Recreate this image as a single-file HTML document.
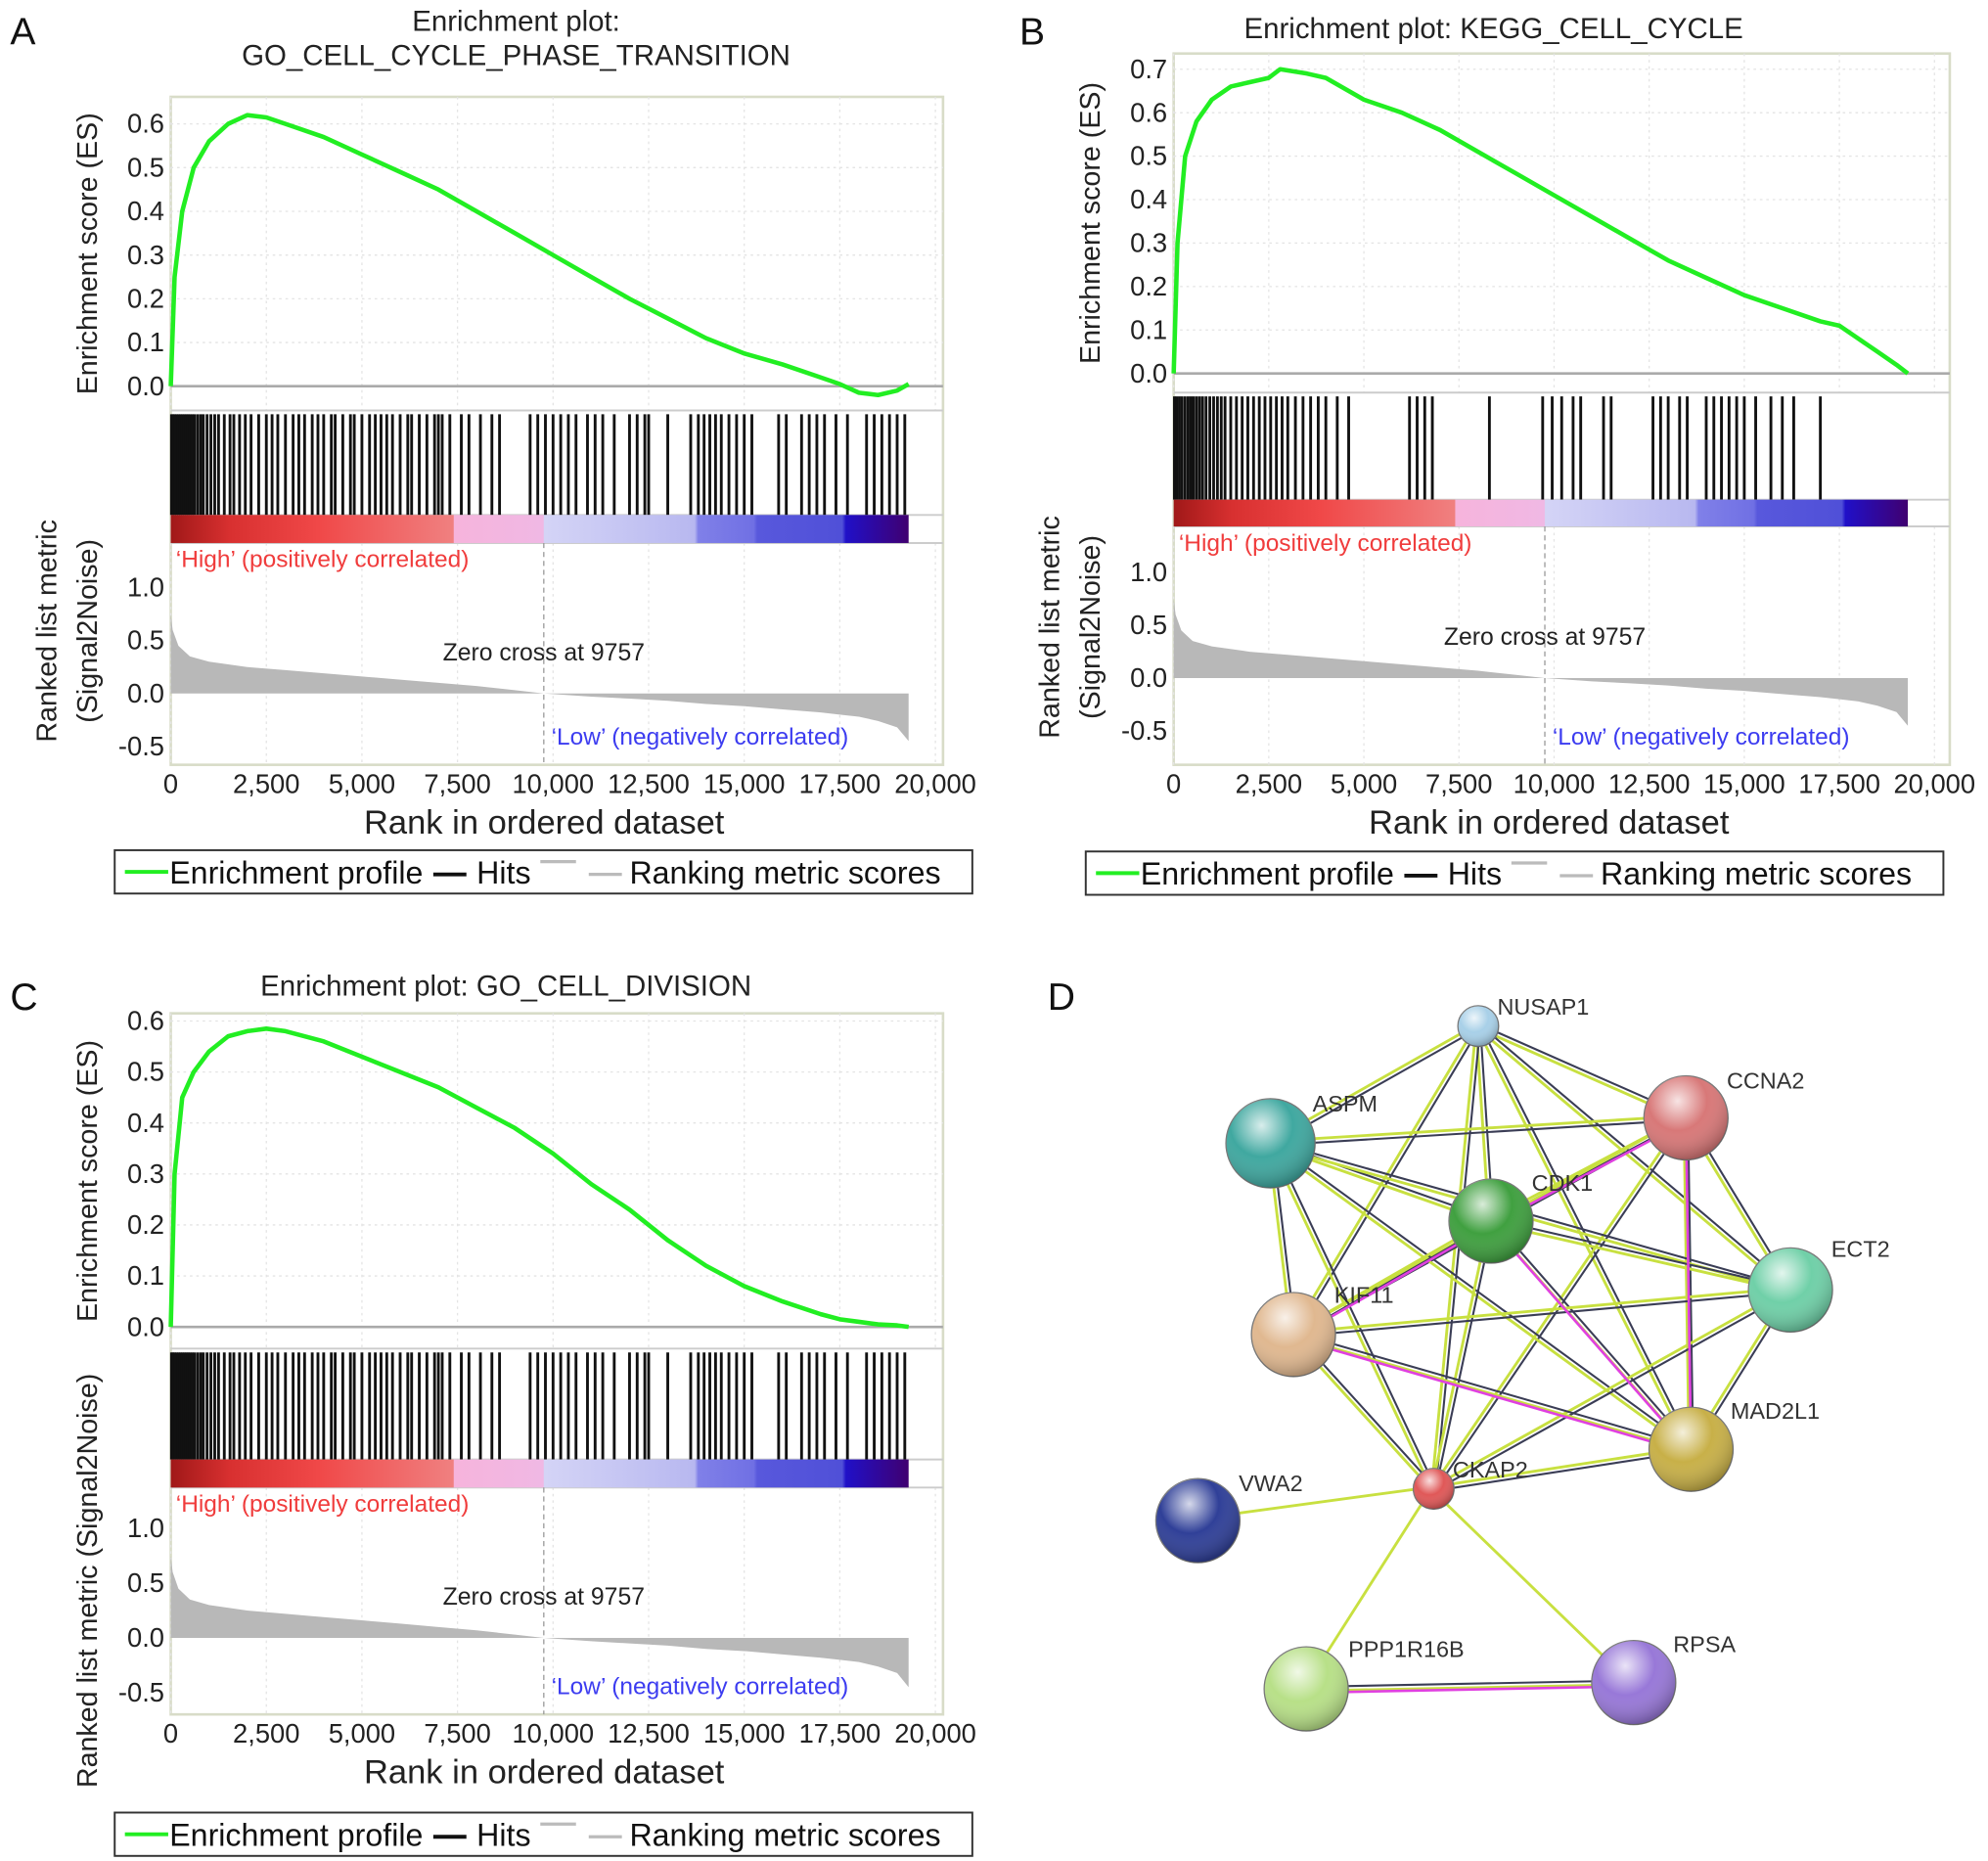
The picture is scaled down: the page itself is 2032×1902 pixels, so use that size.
<!DOCTYPE html>
<html><head><meta charset="utf-8">
<style>
html,body{margin:0;padding:0;background:#fff;}
svg{display:block;font-family:"Liberation Sans",sans-serif;}
</style></head>
<body>
<svg id="fig" width="2032" height="1902" viewBox="0 0 1560 1460" preserveAspectRatio="none" xmlns="http://www.w3.org/2000/svg">
<defs>
<linearGradient id="cbar" x1="0" x2="1" y1="0" y2="0">
<stop offset="0" stop-color="#a01818"/><stop offset="0.08" stop-color="#d83030"/><stop offset="0.2" stop-color="#f04848"/><stop offset="0.383" stop-color="#f08080"/>
<stop offset="0.384" stop-color="#f6b4dc"/><stop offset="0.505" stop-color="#f0b8e4"/>
<stop offset="0.506" stop-color="#d4d4f6"/><stop offset="0.71" stop-color="#b8b8f0"/>
<stop offset="0.715" stop-color="#8080e8"/><stop offset="0.79" stop-color="#7070e4"/>
<stop offset="0.795" stop-color="#5858dc"/><stop offset="0.91" stop-color="#5050d8"/>
<stop offset="0.915" stop-color="#2010c8"/><stop offset="1" stop-color="#400070"/>
</linearGradient>
<radialGradient id="shine" cx="0.4" cy="0.3" r="0.7"><stop offset="0" stop-color="#fff" stop-opacity="0.8"/><stop offset="0.5" stop-color="#fff" stop-opacity="0"/><stop offset="1" stop-color="#000" stop-opacity="0.25"/></radialGradient>
</defs>
</svg>
<script>
// ---- chart data ----
const xTickVals = [0,2500,5000,7500,10000,12500,15000,17500,20000];
const xTickLabels = ["0","2,500","5,000","7,500","10,000","12,500","15,000","17,500","20,000"];
const rankedTickVals = [1.0,0.5,0.0,-0.5];
const rankedTickLabels = ["1.0","0.5","0.0","-0.5"];
const esTicksA = [0,0.1,0.2,0.3,0.4,0.5,0.6];
const esTicksB = [0,0.1,0.2,0.3,0.4,0.5,0.6,0.7];
const esTicksC = [0,0.1,0.2,0.3,0.4,0.5,0.6];
const esRanksA = [0,100,300,600,1000,1500,2000,2500,3000,4000,5000,6000,7000,8000,9000,10000,11000,12000,13000,14000,15000,16000,17000,17500,18000,18500,19000,19300];
const esValsA  = [0,0.25,0.4,0.5,0.56,0.6,0.62,0.615,0.6,0.57,0.53,0.49,0.45,0.4,0.35,0.3,0.25,0.2,0.155,0.11,0.075,0.05,0.02,0.005,-0.015,-0.02,-0.01,0.005];
const esRanksB = [0,100,300,600,1000,1500,2000,2500,2800,3500,4000,5000,6000,7000,8000,9000,10000,11000,12000,13000,14000,15000,16000,17000,17500,18000,18500,19000,19300];
const esValsB  = [0,0.3,0.5,0.58,0.63,0.66,0.67,0.68,0.70,0.69,0.68,0.63,0.6,0.56,0.51,0.46,0.41,0.36,0.31,0.26,0.22,0.18,0.15,0.12,0.11,0.08,0.05,0.02,0];
const esRanksC = [0,100,300,600,1000,1500,2000,2500,3000,4000,5000,6000,7000,8000,9000,10000,11000,12000,13000,14000,15000,16000,17000,17500,18000,18500,19000,19300];
const esValsC  = [0,0.3,0.45,0.5,0.54,0.57,0.58,0.585,0.58,0.56,0.53,0.5,0.47,0.43,0.39,0.34,0.28,0.23,0.17,0.12,0.08,0.05,0.025,0.015,0.01,0.005,0.003,0];
const metricRanks = [0,50,200,500,1000,2000,3000,4000,5000,6000,7000,8000,9000,9757,11000,12000,13000,14000,15000,16000,17000,17500,18000,18500,19000,19300];
const metricVals  = [0.75,0.6,0.45,0.35,0.3,0.25,0.22,0.19,0.16,0.13,0.1,0.07,0.03,0,-0.03,-0.05,-0.07,-0.1,-0.12,-0.15,-0.18,-0.2,-0.22,-0.26,-0.32,-0.45];
const hitsA = [20,60,100,150,200,250,300,350,400,450,500,560,620,700,780,850,950,1050,1150,1250,1400,1550,1650,1800,1950,2100,2300,2500,2650,2800,3000,3200,3350,3500,3700,3850,4000,4200,4300,4500,4700,4800,5000,5200,5350,5500,5650,5800,6000,6200,6300,6500,6700,6900,7000,7100,7300,7600,7800,8100,8400,8600,9400,9600,9800,10000,10200,10400,10600,10900,11100,11300,11600,12000,12200,12400,12500,13000,13600,13800,13950,14100,14250,14400,14600,14800,15000,15200,15900,16100,16500,16700,16900,17100,17400,17700,18200,18400,18600,18800,19000,19200];
const hitsB = [20,80,150,220,300,380,450,520,600,680,760,850,950,1050,1150,1250,1350,1500,1650,1800,1950,2100,2250,2400,2550,2700,2850,3000,3200,3400,3600,3800,4000,4300,4600,6200,6400,6600,6800,8300,9700,9950,10200,10500,10700,11300,11500,12600,12800,13000,13300,13500,14000,14200,14400,14600,14800,15000,15300,15700,16000,16300,17000];
const hitsC = hitsA;
const zeroCross = 9757;
// network data
const nodeNames = ["NUSAP1","CCNA2","ASPM","CDK1","ECT2","KIF11","MAD2L1","CKAP2","VWA2","PPP1R16B","RPSA"];
const edgePairs = [[0,1],[0,2],[0,3],[0,4],[0,5],[0,6],[0,7],[1,2],[1,3],[1,4],[1,5],[1,6],[1,7],[2,3],[2,4],[2,5],[2,6],[2,7],[3,4],[3,5],[3,6],[3,7],[4,5],[4,6],[4,7],[5,6],[5,7],[6,7],[7,8],[7,9],[7,10],[9,10]];

const NS = "http://www.w3.org/2000/svg";
const svg = document.getElementById('fig');
function el(tag, attrs, parent, text){
  const e = document.createElementNS(NS, tag);
  for (const k in attrs) e.setAttribute(k, attrs[k]);
  if (text !== undefined) e.textContent = text;
  (parent || svg).appendChild(e);
  return e;
}

function panel(id, letter, lx, ly, cfg, esRanks, esVals, esTicks, hits){
  const g = el('g', {}, svg);
  
  
  const X = r => cfg.x0 + r * (cfg.x20k - cfg.x0) / 20000;
  const Yes = v => cfg.es0 - v * cfg.esScale;
  const Yrk = v => cfg.rk0 - v * cfg.rkScale;
  const L = el('text', {x:lx, y:ly, 'font-size':30, fill:'#111'}, g, letter);
  
  
  cfg.title.forEach((t, i) => {
    const T = el('text', {x:cfg.titleX, y:cfg.titleY + i*27, 'font-size':22.6, 'text-anchor':'middle', fill:'#222'}, g, t);
    
    
  });
  const F = el('rect', {x:cfg.x0, y:cfg.top, width:cfg.right-cfg.x0, height:cfg.bot-cfg.top, fill:'#fff', stroke:'#d8dcc8', 'stroke-width':2}, g);
  
  
  xTickVals.forEach(v => {
    el('line', {x1:X(v), x2:X(v), y1:cfg.top, y2:cfg.esBot, stroke:'#e4e4e4', 'stroke-dasharray':'2,3'}, g);
    el('line', {x1:X(v), x2:X(v), y1:cfg.rkTop, y2:cfg.bot, stroke:'#e4e4e4', 'stroke-dasharray':'2,3'}, g);
  });
  esTicks.forEach(v => {
    el('line', {x1:cfg.x0, x2:cfg.right, y1:Yes(v), y2:Yes(v), stroke:'#e4e4e4', 'stroke-dasharray':'2,3'}, g);
    const t = el('text', {x:cfg.x0-5, y:Yes(v)+7, 'font-size':21, 'text-anchor':'end', fill:'#222'}, g, v.toFixed(1));
    
    
  });
  el('line', {x1:cfg.x0, x2:cfg.right, y1:Yes(0), y2:Yes(0), stroke:'#aaa', 'stroke-width':2}, g);
  [cfg.esBot, cfg.barTop, cfg.rkTop].forEach(y => el('line', {x1:cfg.x0, x2:cfg.right, y1:y, y2:y, stroke:'#ccc', 'stroke-width':1.5}, g));
  const pts = esRanks.map((r,i) => X(r).toFixed(1) + ',' + Yes(esVals[i]).toFixed(1)).join(' ');
  const C = el('polyline', {points:pts, fill:'none', stroke:'#22ee22', 'stroke-width':3.5, 'stroke-linejoin':'round'}, g);
  
  
  hits.forEach(r => {
    const h = el('line', {x1:X(r), x2:X(r), y1:cfg.esBot+3, y2:cfg.barTop, stroke:'#111', 'stroke-width':2.2}, g);
    
    
  });
  const B = el('rect', {x:X(0), y:cfg.barTop, width:X(19300)-X(0), height:cfg.rkTop-cfg.barTop, fill:'url(#cbar)'}, g);
  
  
  let d = 'M' + X(0) + ',' + Yrk(0);
  metricRanks.forEach((r,i) => { d += ' L' + X(r).toFixed(1) + ',' + Yrk(metricVals[i]).toFixed(1); });
  d += ' L' + X(19300) + ',' + Yrk(0) + ' Z';
  const A = el('path', {d:d, fill:'#b8b8b8'}, g);
  
  
  rankedTickVals.forEach((v,i) => {
    const t = el('text', {x:cfg.x0-5, y:Yrk(v)+7, 'font-size':21, 'text-anchor':'end', fill:'#222'}, g, rankedTickLabels[i]);
    
    
  });
  el('line', {x1:X(zeroCross), x2:X(zeroCross), y1:cfg.rkTop, y2:cfg.bot, stroke:'#999', 'stroke-dasharray':'4,3'}, g);
  const z = el('text', {x:X(zeroCross), y:Yrk(0)-26, 'font-size':19, 'text-anchor':'middle', fill:'#222'}, g, 'Zero cross at ' + zeroCross);
  
  
  const hi = el('text', {x:cfg.x0+4, y:cfg.rkTop+19, 'font-size':18.8, fill:'#f03c3c'}, g, '\u2018High\u2019 (positively correlated)');
  
  
  const lo = el('text', {x:X(zeroCross)+6, y:cfg.bot-16, 'font-size':18.8, fill:'#3c3cf0'}, g, '\u2018Low\u2019 (negatively correlated)');
  
  
  xTickVals.forEach((v,i) => {
    const t = el('text', {x:X(v), y:cfg.bot+22, 'font-size':21, 'text-anchor':'middle', fill:'#222'}, g, xTickLabels[i]);
    
    
  });
  const xt = el('text', {x:(cfg.x0+cfg.right)/2-10, y:cfg.bot+54, 'font-size':26.5, 'text-anchor':'middle', fill:'#222'}, g, 'Rank in ordered dataset');
  
  
  const ym = (cfg.top+cfg.esBot)/2;
  const yt = el('text', {x:0, y:0, 'font-size':22, 'text-anchor':'middle', fill:'#222', transform:`translate(${cfg.x0-58},${ym}) rotate(-90)`}, g, 'Enrichment score (ES)');
  
  
  if (cfg.rkOneLine){
    const r1 = el('text', {x:0, y:0, 'font-size':22, 'text-anchor':'middle', fill:'#222', transform:`translate(${cfg.x0-58},${cfg.rkMid}) rotate(-90)`}, g, 'Ranked list metric (Signal2Noise)');
    
    
  } else {
    const r1 = el('text', {x:0, y:0, 'font-size':22, 'text-anchor':'middle', fill:'#222', transform:`translate(${cfg.x0-90},${cfg.rkMid}) rotate(-90)`}, g, 'Ranked list metric');
    
    
    const r2 = el('text', {x:0, y:0, 'font-size':22, 'text-anchor':'middle', fill:'#222', transform:`translate(${cfg.x0-58},${cfg.rkMid}) rotate(-90)`}, g, '(Signal2Noise)');
    
    
  }
  const lg = el('g', {}, g);
  
  
  const lx0 = cfg.legX, ly0 = cfg.legY;
  el('rect', {x:lx0, y:ly0, width:673, height:34, fill:'#fff', stroke:'#333', 'stroke-width':1.5}, lg);
  const cy = ly0 + 17;
  el('line', {x1:lx0+8, x2:lx0+42, y1:cy, y2:cy, stroke:'#22ee22', 'stroke-width':3}, lg);
  const e1 = el('text', {x:lx0+43, y:cy+9, 'font-size':24.7, fill:'#111'}, lg, 'Enrichment profile');
  
  
  el('line', {x1:lx0+250, x2:lx0+276, y1:cy+2, y2:cy+2, stroke:'#111', 'stroke-width':3}, lg);
  const e2 = el('text', {x:lx0+284, y:cy+9, 'font-size':24.7, fill:'#111'}, lg, 'Hits');
  
  
  el('line', {x1:lx0+334, x2:lx0+362, y1:cy-8, y2:cy-8, stroke:'#bbb', 'stroke-width':2.5}, lg);
  el('line', {x1:lx0+372, x2:lx0+398, y1:cy+2, y2:cy+2, stroke:'#bbb', 'stroke-width':2.5}, lg);
  const e3 = el('text', {x:lx0+404, y:cy+9, 'font-size':24.7, fill:'#111'}, lg, 'Ranking metric scores');
  
  
}

panel('a', 'A', 8, 35, {x0:134, x20k:734, right:740, top:76, bot:600, esBot:322, barTop:404, rkTop:426, es0:303, esScale:343, rk0:544, rkScale:83, rkMid:495,
  title:['Enrichment plot:','GO_CELL_CYCLE_PHASE_TRANSITION'], titleX:405, titleY:24, legX:90, legY:667}, esRanksA, esValsA, esTicksA, hitsA);
panel('b', 'B', 800, 35, {x0:921, x20k:1518, right:1530, top:42, bot:600, esBot:308, barTop:392, rkTop:413, es0:293, esScale:341, rk0:532, rkScale:83, rkMid:492,
  title:['Enrichment plot: KEGG_CELL_CYCLE'], titleX:1172, titleY:30, legX:852, legY:668}, esRanksB, esValsB, esTicksB, hitsB);
panel('c', 'C', 8, 792, {x0:134, x20k:734, right:740, top:795, bot:1345, esBot:1058, barTop:1145, rkTop:1167, es0:1041, esScale:400, rk0:1285, rkScale:86, rkMid:1240, rkOneLine:true,
  title:['Enrichment plot: GO_CELL_DIVISION'], titleX:397, titleY:781, legX:90, legY:1422}, esRanksC, esValsC, esTicksC, hitsC);

// ---- network panel D ----
const nodeX = [1160,1323,997,1170,1405,1015,1327,1125,940,1025,1282];
const nodeY = [805,877,897,958,1012,1047,1137,1168,1193,1325,1320];
const nodeR = [16,33,35,33,33,33,33,16,33,33,33];
const nodeColor = ['#a8d0e8','#d87878','#40a8a0','#40a040','#70d0a8','#e0b890','#c8b048','#e05858','#304098','#b8e088','#9878d8'];
const labelDX = [15,32,33,32,32,32,31,15,32,33,31];
const labelDY = [-15,-29,-31,-30,-32,-31,-30,-15,-29,-31,-30];
const gD = el('g', {}, svg);


const dl = el('text', {x:822, y:792, 'font-size':30, fill:'#111'}, gD, 'D');


edgePairs.forEach(([a,b]) => {
  const x1=nodeX[a], y1=nodeY[a], x2=nodeX[b], y2=nodeY[b];
  const len = Math.hypot(x2-x1, y2-y1), nx = -(y2-y1)/len*1.6, ny = (x2-x1)/len*1.6;
  const e = el('g', {}, gD);
  
  
  el('line', {x1:x1+nx, y1:y1+ny, x2:x2+nx, y2:y2+ny, stroke:'#c8e040', 'stroke-width':2.2}, e);
  if (b !== 8 && !(a===7 && (b===9||b===10)))
    el('line', {x1:x1-nx, y1:y1-ny, x2:x2-nx, y2:y2-ny, stroke:'#3a3d55', 'stroke-width':1.6}, e);
});
[[1,3],[3,5],[1,6],[5,6],[3,6],[9,10]].forEach(([a,b]) => {
  el('line', {x1:nodeX[a], y1:nodeY[a]+3, x2:nodeX[b], y2:nodeY[b]+3, stroke:'#e040e0', 'stroke-width':2}, gD);
});
nodeNames.forEach((n,i) => {
  const ng = el('g', {}, gD);
  
  
  el('circle', {cx:nodeX[i], cy:nodeY[i], r:nodeR[i], fill:nodeColor[i], stroke:'#777', 'stroke-width':1}, ng);
  el('circle', {cx:nodeX[i], cy:nodeY[i], r:nodeR[i], fill:'url(#shine)'}, ng);
  const t = el('text', {x:nodeX[i]+labelDX[i], y:nodeY[i]+labelDY[i]+6, 'font-size':18, fill:'#333'}, ng, n);
  
  
});
</script>
</body></html>
